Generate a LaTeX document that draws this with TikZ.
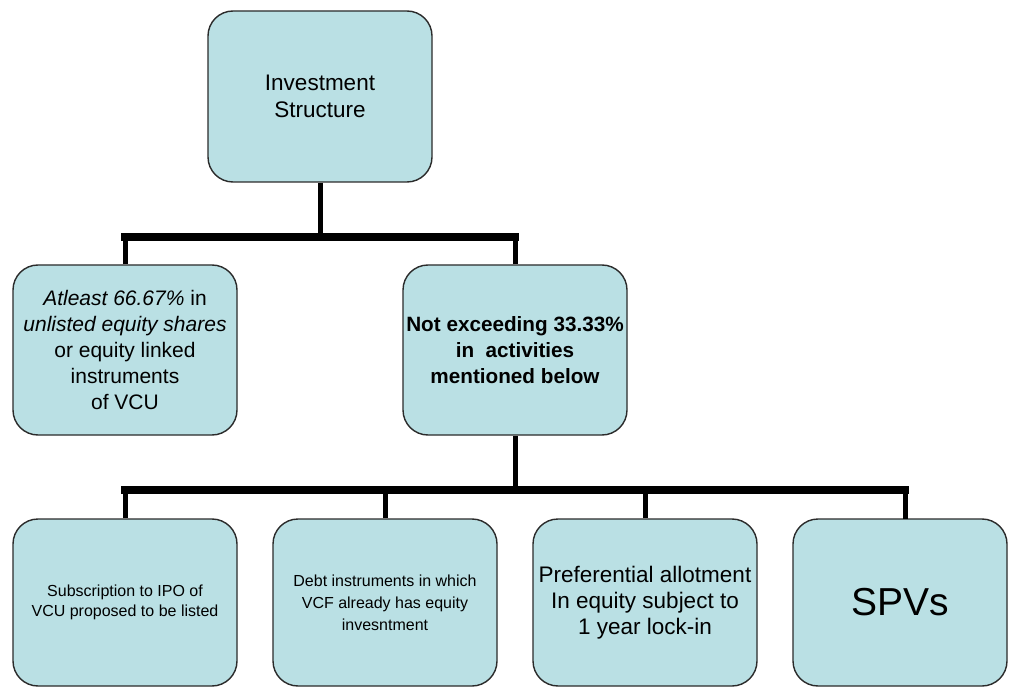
\documentclass[tikz,border=0pt]{standalone}
\usepackage{fontspec}
\setmainfont{Liberation Sans}
\definecolor{boxfill}{HTML}{BAE0E4}
\definecolor{boxline}{HTML}{2B2B2B}
\begin{document}
\begin{tikzpicture}[x=1pt,y=-1pt,
  box/.style={draw=boxline, line width=1.4pt, fill=boxfill, rounded corners=25pt,
    minimum width=224pt, minimum height=170pt, align=center, inner sep=0pt, text=black},
  conn/.style={line width=5pt},
  bar/.style={line width=7.5pt, line cap=rect}]
\useasboundingbox (0,0) rectangle (1010,687);

\node[box, minimum height=171pt, font=\fontsize{22.5}{27}\selectfont] (top) at (320,96.5)
  {Investment\\Structure};
\node[box, font=\fontsize{21}{26}\selectfont] (ml) at (125,350)
  {\textit{Atleast 66.67\%} in\\\textit{unlisted equity shares}\\or equity linked\\instruments\\of VCU};
\node[box, font=\fontsize{20.7}{26}\selectfont\bfseries] (mr) at (515,350)
  {Not exceeding 33.33\%\\in\ \ activities\\mentioned below};

\node[box, minimum height=167pt, font=\fontsize{16}{20}\selectfont] (b1) at (125,602.5)
  {Subscription to IPO of\\VCU proposed to be listed};
\node[box, minimum height=167pt, font=\fontsize{16}{22}\selectfont] (b2) at (385,602.5)
  {Debt instruments in which\\VCF already has equity\\invesntment};
\node[box, minimum height=167pt, font=\fontsize{22.5}{26}\selectfont] (b3) at (645,602.5)
  {Preferential allotment\\In equity subject to\\1 year lock-in};
\node[box, minimum height=167pt, minimum width=214pt, font=\fontsize{39}{44}\selectfont] (b4) at (900,602.5)
  {SPVs};

\coordinate (j1) at (320,237);
\coordinate (j2) at (515,490);
\coordinate (b4n) at (905,519);

\draw[conn] (top.south) -- (j1);
\draw[conn] (ml.north) -- (ml.north |- j1);
\draw[conn] (mr.north) -- (mr.north |- j1);
\draw[bar] (ml.north |- j1) -- (mr.north |- j1);

\draw[conn] (mr.south) -- (j2);
\draw[conn] (b1.north) -- (b1.north |- j2);
\draw[conn] (b2.north) -- (b2.north |- j2);
\draw[conn] (b3.north) -- (b3.north |- j2);
\draw[conn] (b4n) -- (b4n |- j2);
\draw[bar] (b1.north |- j2) -- (b4n |- j2);
\end{tikzpicture}
\end{document}
